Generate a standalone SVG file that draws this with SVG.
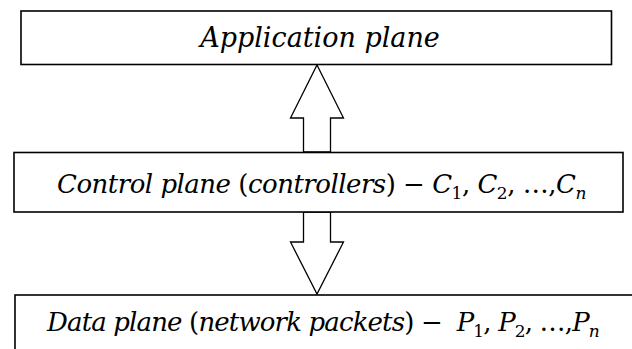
<svg xmlns="http://www.w3.org/2000/svg" width="632" height="349" viewBox="0 0 632 349">
<style>
.box{fill:#fff;stroke:#000;stroke-width:1.6}
.arr{fill:#fff;stroke:#000;stroke-width:1.3;stroke-linejoin:miter}
text{font-family:"DejaVu Serif","Liberation Serif",serif;font-size:27px;fill:#000}
.m{font-size:26px}
.i{font-style:italic}
.s{font-size:17px}
</style>
<rect width="632" height="349" fill="#fff"/>
<g id="connectors">
<polygon class="arr" points="317,65 343.5,118 330.5,118 330.5,152 303.5,152 303.5,118 290.5,118"/>
<polygon class="arr" points="303.5,212 330.5,212 330.5,242 343.5,242 317,294 290.5,242 303.5,242"/>
</g>
<g id="application">
<rect class="box" x="21" y="11" width="590.5" height="53.5"/>
<text class="i" x="320" y="47" text-anchor="middle">Application plane</text>
</g>
<g id="control">
<rect class="box" x="14" y="152.5" width="609" height="59.5"/>
<text class="m" x="57" y="193" xml:space="preserve" letter-spacing="-0.5"><tspan class="i">Control plane </tspan><tspan>(</tspan><tspan class="i">controllers</tspan><tspan>) − </tspan><tspan class="i">C</tspan><tspan class="s" dy="6">1</tspan><tspan dy="-6">, </tspan><tspan class="i">C</tspan><tspan class="s" dy="6">2</tspan><tspan dy="-6">, …,</tspan><tspan class="i">C</tspan><tspan class="i s" dy="6">n</tspan></text>
</g>
<g id="data">
<rect class="box" x="15" y="295" width="640" height="80"/>
<text class="m" x="47" y="331" xml:space="preserve" letter-spacing="-0.85"><tspan class="i">Data plane </tspan><tspan>(</tspan><tspan class="i">network packets</tspan><tspan>) −  </tspan><tspan class="i">P</tspan><tspan class="s" dy="6">1</tspan><tspan dy="-6">, </tspan><tspan class="i">P</tspan><tspan class="s" dy="6">2</tspan><tspan dy="-6">, …,</tspan><tspan class="i">P</tspan><tspan class="i s" dy="6">n</tspan></text>
</g>
</svg>
